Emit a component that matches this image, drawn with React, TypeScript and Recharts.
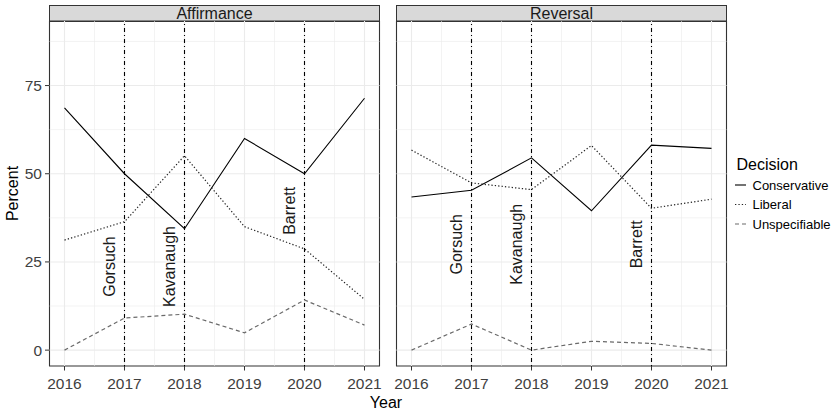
import React from "react"
import { LineChart, Line, XAxis, YAxis, ReferenceLine, ReferenceArea, ReferenceDot } from "recharts"

// x axis / grid
const years = [2016, 2017, 2018, 2019, 2020, 2021]
const xMinor = [2016.5, 2017.5, 2018.5, 2019.5, 2020.5]
const yTicks = [0, 25, 50, 75]
const yMinor = [12.5, 37.5, 62.5, 87.5]

// Affirmance panel
const affConservative = [68.7, 50.0, 34.4, 60.0, 50.0, 71.4]
const affLiberal = [31.2, 36.4, 55.1, 35.0, 28.7, 14.4]
const affUnspecifiable = [0, 9.1, 10.2, 4.9, 14.2, 7.1]

// Reversal panel
const revConservative = [43.4, 45.3, 54.5, 39.5, 58.1, 57.2]
const revLiberal = [56.7, 47.4, 45.5, 58.0, 40.2, 42.8]
const revUnspecifiable = [0, 7.4, 0, 2.5, 1.9, 0]

// appointments
const justices = ["Gorsuch", "Kavanaugh", "Barrett"]
const justiceYears = [2017, 2018, 2020]
const affLabelY = [23.7, 23.7, 39.5]
const revLabelY = [30, 30, 30]

const seriesNames = ["Conservative", "Liberal", "Unspecifiable"]

const lineStyle: Record<string, { stroke: string; dash?: string }> = {
  Conservative: { stroke: "#000000" },
  Liberal: { stroke: "#222222", dash: "1.3 2.1" },
  Unspecifiable: { stroke: "#6a6a6a", dash: "4 3" },
}

const X_DOMAIN = [2015.75, 2021.25]
const Y_DOMAIN = [-4.5, 93.3]
const PLOT_W = 330
const H = 411
const FONT = '"Liberation Sans", Arial, Helvetica, sans-serif'

const buildRows = (c: number[], l: number[], u: number[]) =>
  years.map((year, i) => ({ year, Conservative: c[i], Liberal: l[i], Unspecifiable: u[i] }))

const affRows = buildRows(affConservative, affLiberal, affUnspecifiable)
const revRows = buildRows(revConservative, revLiberal, revUnspecifiable)

// rotated text drawn at the dot's scaled position
const justiceLabel = (name: string) => (props: any) => (
  <text
    x={props.cx}
    y={props.cy}
    transform={`rotate(-90 ${props.cx} ${props.cy})`}
    textAnchor="middle"
    fontSize={16}
    fill="#1a1a1a"
  >
    {name}
  </text>
)

interface PanelProps {
  title: string
  rows: any[]
  labelY: number[]
  left: number
  width: number
  plotLeft: number
  showY: boolean
}

function Panel({ title, rows, labelY, left, width, plotLeft, showY }: PanelProps) {
  return (
    <div style={{ position: "absolute", left, top: 0, width, height: H }}>
      <div
        style={{
          position: "absolute",
          left: plotLeft - 0.5,
          top: 5,
          width: PLOT_W + 1,
          height: 17,
          boxSizing: "border-box",
          border: "1px solid #333333",
          background: "#d9d9d9",
          color: "#1a1a1a",
          fontSize: 16,
          lineHeight: "15px",
          textAlign: "center",
        }}
      >
        {title}
      </div>
      <LineChart
        width={width}
        height={H}
        data={rows}
        margin={{ top: 21, right: width - plotLeft - PLOT_W, left: showY ? 0 : plotLeft, bottom: 0 }}
      >
        <XAxis
          dataKey="year"
          type="number"
          domain={X_DOMAIN}
          ticks={years}
          allowDataOverflow
          axisLine={false}
          tickLine={{ stroke: "#333333" }}
          tickSize={4.5}
          tickMargin={7}
          height={45}
          tick={{ fontSize: 15.5, fill: "#404040" }}
        />
        <YAxis
          type="number"
          domain={Y_DOMAIN}
          ticks={yTicks}
          allowDataOverflow
          hide={!showY}
          width={plotLeft}
          axisLine={false}
          tickLine={{ stroke: "#333333" }}
          tickSize={4.5}
          tickMargin={3}
          tick={{ fontSize: 15.5, fill: "#404040" }}
        />
        {yMinor.map((v) => (
          <ReferenceLine key={`ym${v}`} y={v} stroke="#ebebeb" strokeWidth={0.6} />
        ))}
        {xMinor.map((v) => (
          <ReferenceLine key={`xm${v}`} x={v} stroke="#ebebeb" strokeWidth={0.6} />
        ))}
        {yTicks.map((v) => (
          <ReferenceLine key={`y${v}`} y={v} stroke="#ebebeb" strokeWidth={1.1} />
        ))}
        {years.map((v) => (
          <ReferenceLine key={`x${v}`} x={v} stroke="#ebebeb" strokeWidth={1.1} />
        ))}
        {justiceYears.map((v) => (
          <ReferenceLine key={`j${v}`} x={v} stroke="#000000" strokeWidth={1.1} strokeDasharray="1 3 4 3" />
        ))}
        {justices.map((name, i) => (
          <ReferenceDot
            key={name}
            x={justiceYears[i] - 0.165}
            y={labelY[i]}
            r={1}
            shape={justiceLabel(name)}
          />
        ))}
        {seriesNames.map((s) => (
          <Line
            key={s}
            dataKey={s}
            type="linear"
            stroke={lineStyle[s].stroke}
            strokeDasharray={lineStyle[s].dash}
            strokeWidth={s === "Conservative" ? 1.1 : 1.2}
            dot={false}
            activeDot={false}
            isAnimationActive={false}
          />
        ))}
        <ReferenceArea
          x1={X_DOMAIN[0]}
          x2={X_DOMAIN[1]}
          y1={Y_DOMAIN[0]}
          y2={Y_DOMAIN[1]}
          fill="none"
          stroke="#333333"
          strokeWidth={1.1}
        />
      </LineChart>
    </div>
  )
}

export default function App() {
  return (
    <div
      style={{
        position: "absolute",
        left: 0,
        top: 0,
        width: 833,
        height: H,
        background: "#ffffff",
        fontFamily: FONT,
        overflow: "hidden",
      }}
    >
      <Panel title="Affirmance" rows={affRows} labelY={affLabelY} left={0} width={390} plotLeft={49.5} showY />
      <Panel title="Reversal" rows={revRows} labelY={revLabelY} left={390} width={340} plotLeft={6.5} showY={false} />
      <svg
        width={833}
        height={H}
        style={{ position: "absolute", left: 0, top: 0, pointerEvents: "none", fontFamily: FONT }}
      >
        <text x={18.3} y={193.5} transform="rotate(-90 18.3 193.5)" textAnchor="middle" fontSize={16} fill="#000">
          Percent
        </text>
        <text x={386} y={407.5} textAnchor="middle" fontSize={16} fill="#000">
          Year
        </text>
        <text x={736.5} y={170} fontSize={16} fill="#000">
          Decision
        </text>
        {seriesNames.map((s, i) => (
          <g key={s}>
            <line
              x1={735}
              x2={746}
              y1={185 + i * 19.5}
              y2={185 + i * 19.5}
              stroke={lineStyle[s].stroke}
              strokeDasharray={lineStyle[s].dash}
              strokeWidth={1.1}
            />
            <text x={752.5} y={189.6 + i * 19.5} fontSize={13} fill="#000">
              {s}
            </text>
          </g>
        ))}
      </svg>
    </div>
  )
}
